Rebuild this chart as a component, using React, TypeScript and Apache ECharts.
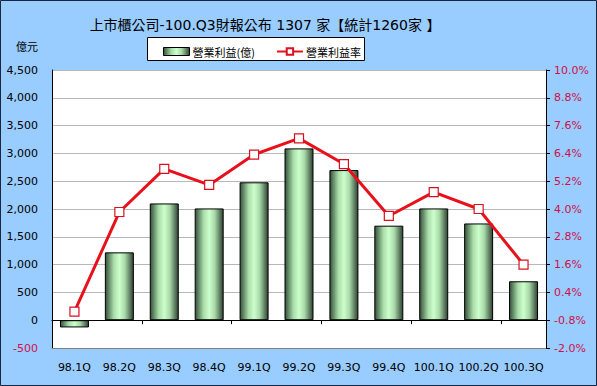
import React, { useEffect, useRef } from "react";
import * as echarts from "echarts";

const categories = ["98.1Q", "98.2Q", "98.3Q", "98.4Q", "99.1Q", "99.2Q", "99.3Q", "99.4Q", "100.1Q", "100.2Q", "100.3Q"];
const profit = [-130, 1220, 2100, 2010, 2480, 3090, 2700, 1700, 2010, 1740, 700];
const margin = [-0.43, 3.87, 5.73, 5.04, 6.35, 7.05, 5.94, 3.70, 4.73, 4.00, 1.60];
const rightTicks = [-2.0, -0.8, 0.4, 1.6, 2.8, 4.0, 5.2, 6.4, 7.6, 8.8, 10.0];

const title = "上市櫃公司-100.Q3財報公布 1307 家【統計1260家 】";
const barName = "營業利益(億)";
const lineName = "營業利益率";
const unitLabel = "億元";

const FONT = "Verdana, 'DejaVu Sans', 'Noto Sans CJK TC', sans-serif";
const CJK = "'Noto Sans CJK TC', sans-serif";

export default function App() {
  const ref = useRef<HTMLDivElement>(null);
  useEffect(() => {
    document.body.style.margin = "0";
    const chart = echarts.init(ref.current!, null, { renderer: "svg" });
    const barGrad = new echarts.graphic.LinearGradient(0, 0, 1, 0, [
      { offset: 0, color: "#34503a" },
      { offset: 0.3, color: "#a8dca8" },
      { offset: 0.5, color: "#ccffcc" },
      { offset: 0.7, color: "#a8d8a8" },
      { offset: 1, color: "#2e4232" },
    ]);
    chart.setOption({
      animation: false,
      backgroundColor: "#99ccff",
      title: {
        text: title,
        left: 260,
        textAlign: "center",
        top: 13,
        textStyle: { fontFamily: "'DejaVu Sans', 'Noto Sans CJK TC', sans-serif", fontSize: 14, fontWeight: "normal", color: "#000" },
      },
      graphic: [
        {
          type: "rect",
          shape: { x: 0.5, y: 0.5, width: 596, height: 385 },
          style: { fill: "none", stroke: "#1a2640", lineWidth: 1 },
          z: 100,
        },
        {
          type: "rect",
          shape: { x: 147.5, y: 37.5, width: 217, height: 23 },
          style: { fill: "#fff", stroke: "#000", lineWidth: 1 },
          z: 0,
        },
        {
          type: "text",
          x: 27,
          y: 46,
          style: { text: unitLabel, fontFamily: CJK, fontSize: 11, fill: "#000", align: "center", verticalAlign: "middle" },
        },
      ],
      legend: {
        left: 158,
        top: 41,
        itemGap: 21,
        itemWidth: 26,
        itemHeight: 8,
        textStyle: { fontFamily: CJK, fontSize: 11, color: "#000", padding: [0, 0, 0, -2] },
        data: [
          { name: barName, icon: "rect", itemStyle: { color: barGrad, borderColor: "#000", borderWidth: 1 } },
          { name: lineName },
        ],
      },
      grid: { left: 52, right: 51, top: 70, bottom: 38, show: true, backgroundColor: "#fff", borderWidth: 0 },
      xAxis: [
        {
          type: "category",
          data: categories,
          axisLine: { onZero: true, lineStyle: { color: "#000", width: 1 } },
          axisTick: { show: true, length: 4, lineStyle: { color: "#000" } },
          axisLabel: { show: false },
        },
        {
          type: "category",
          data: categories,
          position: "bottom",
          axisLine: { show: true, onZero: false, lineStyle: { color: "#808080" } },
          axisTick: { show: false },
          axisLabel: { interval: 0, fontFamily: FONT, fontSize: 11, color: "#000", margin: 14 },
        },
      ],
      yAxis: [
        {
          type: "value",
          min: -500,
          max: 4500,
          interval: 500,
          axisLine: { show: true, lineStyle: { color: "#000" } },
          axisTick: { show: false },
          splitLine: { lineStyle: { color: "#b8b8b8" } },
          axisLabel: {
            fontFamily: FONT,
            fontSize: 11,
            margin: 14,
            formatter: (v: number) => v.toLocaleString("en-US"),
            color: (v: any) => (Number(v) < 0 ? "#d0104a" : "#000"),
          },
        },
        {
          type: "value",
          min: -2,
          max: 10,
          position: "right",
          axisLine: { show: true, lineStyle: { color: "#000" } },
          axisTick: { show: true, length: 4, inside: false, lineStyle: { color: "#000" }, customValues: rightTicks },
          splitLine: { show: false },
          axisLabel: {
            fontFamily: FONT,
            fontSize: 11,
            margin: 8,
            color: "#d0104a",
            customValues: rightTicks,
            formatter: (v: number) => v.toFixed(1) + "%",
          },
        },
      ],
      series: [
        {
          name: barName,
          type: "bar",
          data: profit,
          barWidth: 29,
          itemStyle: { color: barGrad, borderColor: "#000", borderWidth: 1 },
        },
        {
          name: lineName,
          type: "line",
          yAxisIndex: 1,
          data: margin,
          symbol: "rect",
          symbolSize: 9,
          lineStyle: { color: "#e8101a", width: 3 },
          itemStyle: { color: "#fff", borderColor: "#d81020", borderWidth: 1.2 },
          z: 5,
        },
      ],
    });
    return () => chart.dispose();
  }, []);
  return <div ref={ref} style={{ width: 597, height: 386 }} />;
}
